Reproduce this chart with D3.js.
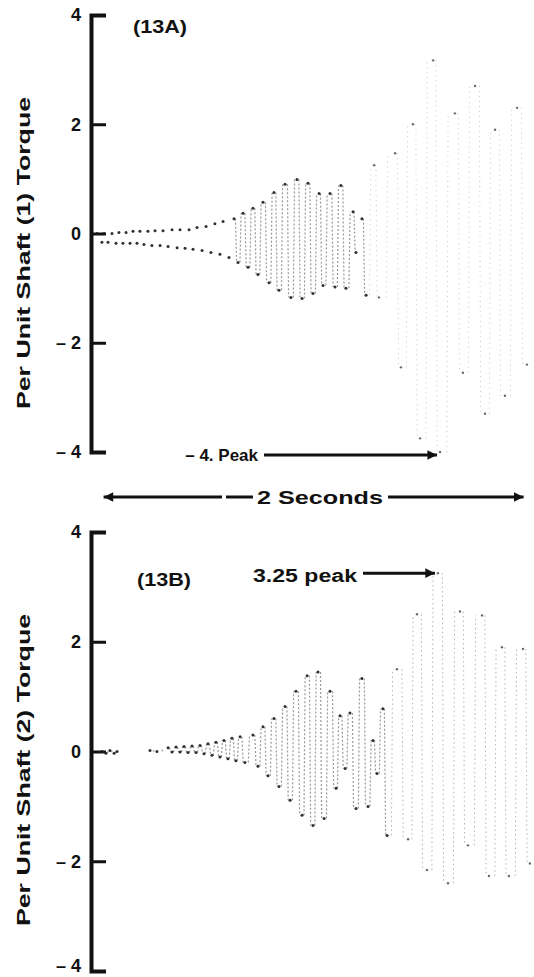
<!DOCTYPE html>
<html>
<head>
<meta charset="utf-8">
<script src="https://cdn.jsdelivr.net/npm/d3@7/dist/d3.min.js"></script>
<style>
  html, body { margin: 0; padding: 0; background: #fff; }
  svg { display: block; }
  text { font-family: "Liberation Sans", Arial, sans-serif; font-weight: bold; fill: #111; }
</style>
</head>
<body>
<svg id="chart" width="534" height="977"></svg>
<script>
// Torsional torque oscillograms, per unit, for two shafts (seconds vs p.u.)
// Each trace is listed as its alternating crest / trough points.
const shaft1Time = [
  0.029, 0.052, 0.062, 0.081, 0.100, 0.119, 0.133, 0.152, 0.167, 0.186,
  0.200, 0.219, 0.233, 0.252, 0.271, 0.290, 0.305, 0.329, 0.343, 0.367,
  0.386, 0.410, 0.424, 0.448, 0.467, 0.486, 0.505, 0.529, 0.548, 0.571,
  0.590, 0.614, 0.629, 0.657, 0.681, 0.700, 0.724, 0.748, 0.771, 0.795,
  0.819, 0.848, 0.871, 0.895, 0.924, 0.952, 0.981, 1.005, 1.033, 1.057,
  1.086, 1.105, 1.138, 1.162, 1.190, 1.214, 1.248, 1.262, 1.290, 1.310,
  1.348, 1.371, 1.448, 1.476, 1.533, 1.567, 1.629, 1.662, 1.733, 1.771,
  1.829, 1.876, 1.924, 1.971, 2.029, 2.076
];
const shaft1Torque = [
  0.00, -0.16, 0.00, -0.16, 0.00, -0.18, 0.02, -0.18, 0.02, -0.18,
  0.04, -0.18, 0.04, -0.20, 0.04, -0.22, 0.05, -0.22, 0.05, -0.24,
  0.07, -0.26, 0.07, -0.27, 0.07, -0.29, 0.11, -0.31, 0.13, -0.35,
  0.18, -0.38, 0.22, -0.44, 0.27, -0.53, 0.37, -0.62, 0.46, -0.75,
  0.57, -0.90, 0.75, -1.04, 0.90, -1.17, 0.99, -1.19, 0.92, -1.10,
  0.73, -0.95, 0.73, -0.98, 0.88, -1.00, 0.40, -0.35, 0.27, -1.13,
  1.25, -1.17, 1.47, -2.45, 2.00, -3.75, 3.17, -4.00, 2.20, -2.55,
  2.70, -3.30, 1.90, -2.97, 2.30, -2.40
];

// null marks a break in the recorded trace
const shaft2Time = [
  0.052, 0.071, 0.090, 0.110, 0.124, 0.200,
  0.281, 0.314, 0.367, 0.386, 0.405, 0.424, 0.443, 0.462, 0.481, 0.500,
  0.519, 0.538, 0.557, 0.576, 0.595, 0.614, 0.633, 0.652, 0.671, 0.690,
  0.710, 0.733, 0.771, 0.795, 0.819, 0.843, 0.871, 0.895, 0.924, 0.948,
  0.976, 1.005, 1.029, 1.057, 1.081, 1.110, 1.138, 1.167, 1.186, 1.210,
  1.233, 1.262, 1.290, 1.319, 1.343, 1.362, 1.390, 1.410, 1.457, 1.510,
  1.552, 1.600, 1.652, 1.700, 1.757, 1.795, 1.862, 1.895, 1.957, 1.990,
  2.057, 2.090
];
const shaft2Torque = [
  0.00, -0.03, 0.02, -0.03, 0.00, null,
  0.02, 0.00, 0.07, -0.01, 0.08, -0.01, 0.09, -0.02, 0.10, -0.02,
  0.11, -0.04, 0.14, -0.07, 0.17, -0.10, 0.20, -0.13, 0.24, -0.17,
  0.27, -0.20, 0.30, -0.27, 0.45, -0.44, 0.60, -0.64, 0.82, -0.89,
  1.10, -1.16, 1.38, -1.35, 1.45, -1.22, 1.10, -0.67, 0.65, -0.31,
  0.70, -1.04, 1.33, -1.00, 0.20, -0.40, 0.78, -1.53, 1.50, -1.60,
  2.50, -2.16, 3.25, -2.40, 2.55, -1.71, 2.48, -2.27, 1.90, -2.27,
  1.87, -2.04
];

const yTicks = [4, 2, 0, -2, -4];
const panelLabels = ["(13A)", "(13B)"];
const axisTitles = ["Per Unit Shaft (1) Torque", "Per Unit Shaft (2) Torque"];
const peak1 = { time: 1.662, value: -4.0, label: "\u2013 4. Peak" };
const peak2 = { time: 1.652, value: 3.25, label: "3.25 peak" };
const spanStart = 0.06, spanSeconds = 2, spanLabel = "2 Seconds";

const svg = d3.select("#chart");
const x = d3.scaleLinear().domain([0, 2.1]).range([91, 532]);

// minSwing: swings smaller than this left only the turning-point dots on the film
const panels = [
  { time: shaft1Time, torque: shaft1Torque, top: 15, bottom: 452, label: panelLabels[0], labelPos: [133, 33],
    title: axisTitles[0], titleY: 253, faintAfter: 1.33, minSwing: 0.75, lateOpacity: 0.4, lateDash: "1,4" },
  { time: shaft2Time, torque: shaft2Torque, top: 532, bottom: 971, label: panelLabels[1], labelPos: [137, 586],
    title: axisTitles[1], titleY: 770, faintAfter: 1.42, minSwing: 0, lateOpacity: 0.55, lateDash: "1.5,3" }
];

// arrowhead
svg.append("defs").append("marker")
  .attr("id", "head").attr("viewBox", "0 0 10 10")
  .attr("refX", 10).attr("refY", 5)
  .attr("markerWidth", 5).attr("markerHeight", 3.2)
  .attr("markerUnits", "strokeWidth").attr("orient", "auto-start-reverse")
  .append("path").attr("d", "M0,0 L10,5 L0,10 Z").attr("fill", "#111");

panels.forEach((p, pi) => {
  const y = d3.scaleLinear().domain([-4, 4]).range([p.bottom, p.top]);
  const g = svg.append("g");

  const axis = d3.axisLeft(y)
    .tickValues(yTicks)
    .tickSizeInner(-15).tickSizeOuter(-15).tickPadding(10)
    .tickFormat(d => d < 0 ? "\u2013 " + Math.abs(d) : String(d));
  const ax = g.append("g").attr("transform", `translate(${x(0)},0)`).call(axis);
  ax.select(".domain").attr("stroke", "#111").attr("stroke-width", 4).attr("fill", "none");
  ax.selectAll(".tick line").attr("stroke", "#111").attr("stroke-width", 3);
  ax.selectAll(".tick text")
    .attr("fill", "#111").attr("font-size", 18).attr("font-weight", "bold")
    .attr("font-family", "Liberation Sans, Arial, sans-serif")
    .attr("dy", d => (pi === 1 && d === -4) ? "0.05em" : "0.32em");

  g.append("text")
    .attr("transform", `translate(30,${p.titleY}) rotate(-90)`)
    .attr("text-anchor", "middle")
    .attr("font-family", "DejaVu Sans, sans-serif")
    .attr("font-size", 19)
    .attr("textLength", 312).attr("lengthAdjust", "spacingAndGlyphs")
    .text(p.title);

  const pts = p.time.map((t, i) => ({ t, v: p.torque[i] }));

  // swings between successive crest and trough, drawn as near-vertical film strokes
  const swings = [];
  for (let i = 1; i < pts.length; i++) {
    const a = pts[i - 1], b = pts[i];
    if (a.v === null || b.v === null) continue;
    if (Math.abs(a.v - b.v) < p.minSwing) continue;
    swings.push({ t: (a.t + b.t) / 2, v0: a.v, v1: b.v, late: b.t > p.faintAfter });
  }
  g.selectAll("line.sw").data(swings).join("line")
    .attr("class", "sw")
    .attr("x1", d => x(d.t) - 0.6).attr("x2", d => x(d.t) + 0.6)
    .attr("y1", d => y(d.v0)).attr("y2", d => y(d.v1))
    .attr("stroke", d => d.late ? "#777" : "#555")
    .attr("stroke-width", d => d.late ? 1 : 1.2)
    .attr("stroke-dasharray", d => d.late ? p.lateDash : "2,2")
    .attr("opacity", d => d.late ? p.lateOpacity : 0.6);

  g.selectAll("circle.pk").data(pts.filter(d => d.v !== null)).join("circle")
    .attr("class", "pk")
    .attr("cx", d => x(d.t)).attr("cy", d => y(d.v))
    .attr("r", d => d.t > p.faintAfter ? 1.2 : 1.5)
    .attr("fill", "#1a1a1a")
    .attr("opacity", d => d.t > p.faintAfter ? 0.65 : 0.9);

  g.append("text")
    .attr("x", p.labelPos[0]).attr("y", p.labelPos[1])
    .attr("font-size", 19).attr("textLength", 54).attr("lengthAdjust", "spacingAndGlyphs")
    .text(p.label);

  p.y = y;
});

// -4 peak annotation (panel A)
{
  const ax = x(peak1.time) - 3;
  svg.append("text").attr("x", 258).attr("y", 461).attr("text-anchor", "end")
    .attr("font-size", 17).text(peak1.label);
  svg.append("line").attr("x1", 264).attr("x2", ax).attr("y1", 455).attr("y2", 455)
    .attr("stroke", "#111").attr("stroke-width", 3).attr("marker-end", "url(#head)");
}

// 3.25 peak annotation (panel B)
{
  const y = panels[1].y;
  const ax = x(peak2.time) - 3;
  const ay = y(peak2.value);
  svg.append("text").attr("x", 253).attr("y", 582)
    .attr("font-size", 18).attr("textLength", 104).attr("lengthAdjust", "spacingAndGlyphs")
    .text(peak2.label);
  svg.append("line").attr("x1", 363).attr("x2", ax).attr("y1", ay).attr("y2", ay)
    .attr("stroke", "#111").attr("stroke-width", 3).attr("marker-end", "url(#head)");
}

// time span indicator
{
  const yy = 497;
  const xa = x(spanStart), xb = x(spanStart + spanSeconds);
  svg.append("line").attr("x1", 222).attr("x2", xa).attr("y1", yy).attr("y2", yy)
    .attr("stroke", "#111").attr("stroke-width", 3).attr("marker-end", "url(#head)");
  svg.append("line").attr("x1", 226).attr("x2", 253).attr("y1", yy).attr("y2", yy)
    .attr("stroke", "#111").attr("stroke-width", 3);
  svg.append("text").attr("x", 257).attr("y", 504)
    .attr("font-family", "DejaVu Sans, sans-serif").attr("font-size", 19)
    .attr("textLength", 126).attr("lengthAdjust", "spacingAndGlyphs")
    .text(spanLabel);
  svg.append("line").attr("x1", 388).attr("x2", xb).attr("y1", yy).attr("y2", yy)
    .attr("stroke", "#111").attr("stroke-width", 3).attr("marker-end", "url(#head)");
}
</script>
</body>
</html>
